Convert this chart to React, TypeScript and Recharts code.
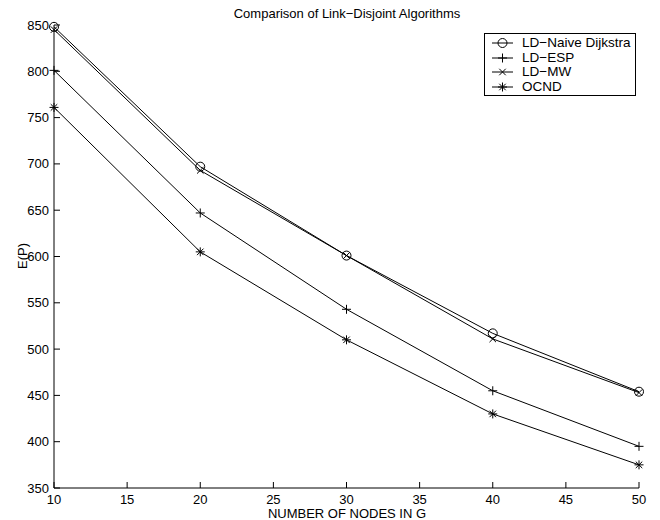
import React from 'react';
import { LineChart, Line, XAxis, YAxis, Legend } from 'recharts';

// number of nodes in G
const nodes = [10, 20, 30, 40, 50];

// E(P) per algorithm
const naiveDijkstra = [848, 697, 601, 517, 454];
const esp = [801, 647, 543, 455, 395];
const mw = [845, 693, 601, 511, 453];
const ocnd = [761, 605, 510, 430, 375];

const xTicks = [10, 15, 20, 25, 30, 35, 40, 45, 50];
const yTicks = [350, 400, 450, 500, 550, 600, 650, 700, 750, 800, 850];

const seriesInfo = [
  { key: 'naive', name: 'LD\u2212Naive Dijkstra', marker: 'circle' },
  { key: 'esp', name: 'LD\u2212ESP', marker: 'plus' },
  { key: 'mw', name: 'LD\u2212MW', marker: 'cross' },
  { key: 'ocnd', name: 'OCND', marker: 'star' },
];

const data = nodes.map((n, i) => ({
  n,
  naive: naiveDijkstra[i],
  esp: esp[i],
  mw: mw[i],
  ocnd: ocnd[i],
}));

const FONT = '"Liberation Sans", Arial, Helvetica, sans-serif';

function Marker({ cx, cy, type }: { cx: number; cy: number; type: string }) {
  const s = 4.5;
  if (type === 'circle') {
    return <circle cx={cx} cy={cy} r={4.5} fill="none" stroke="#000" strokeWidth={1} />;
  }
  const plus = (
    <>
      <line x1={cx - s} x2={cx + s} y1={cy} y2={cy} stroke="#000" />
      <line x1={cx} x2={cx} y1={cy - s} y2={cy + s} stroke="#000" />
    </>
  );
  const d = s * 0.72;
  const cross = (
    <>
      <line x1={cx - d} x2={cx + d} y1={cy - d} y2={cy + d} stroke="#000" />
      <line x1={cx - d} x2={cx + d} y1={cy + d} y2={cy - d} stroke="#000" />
    </>
  );
  return (
    <g>
      {type === 'plus' && plus}
      {type === 'cross' && cross}
      {type === 'star' && (
        <>
          {plus}
          {cross}
        </>
      )}
    </g>
  );
}

const makeDot = (type: string) => (props: any) => {
  const { cx, cy, index } = props;
  if (cx == null || cy == null) return <g key={index} />;
  return (
    <g key={index}>
      <Marker cx={cx} cy={cy} type={type} />
    </g>
  );
};

const BottomTick = ({ x, y, payload }: any) => (
  <g>
    <line x1={x} x2={x} y1={y} y2={y - 6} stroke="#000" />
    <text x={x} y={y + 16} textAnchor="middle" fontSize={13} fontFamily={FONT} fill="#000">
      {payload.value}
    </text>
  </g>
);

const TopTick = ({ x, y }: any) => <line x1={x} x2={x} y1={y} y2={y + 6} stroke="#000" />;

const LeftTick = ({ x, y, payload }: any) => (
  <g>
    <line x1={x} x2={x + 6} y1={y} y2={y} stroke="#000" />
    <text x={x - 5} y={y + 4.5} textAnchor="end" fontSize={13} fontFamily={FONT} fill="#000">
      {payload.value}
    </text>
  </g>
);

const RightTick = ({ x, y }: any) => <line x1={x} x2={x - 6} y1={y} y2={y} stroke="#000" />;

function LegendBox() {
  return (
    <div
      style={{
        border: '1px solid #000',
        background: '#fff',
        padding: '2px 0 3px 4px',
        fontFamily: FONT,
        fontSize: 13.5,
        lineHeight: '14.5px',
        color: '#000',
        boxSizing: 'border-box',
        height: 63,
        whiteSpace: 'nowrap',
      }}
    >
      {seriesInfo.map((s) => (
        <div key={s.key} style={{ display: 'flex', alignItems: 'center', height: 14.5 }}>
          <svg width={30} height={14} style={{ display: 'block', flexShrink: 0 }}>
            <line x1={3} x2={24} y1={7} y2={7} stroke="#000" />
            <Marker cx={13.5} cy={7} type={s.marker} />
          </svg>
          <span style={{ marginLeft: 3 }}>{s.name}</span>
        </div>
      ))}
    </div>
  );
}

export default function App() {
  return (
    <div style={{ position: 'relative', width: 660, height: 520, background: '#fff' }}>
      <style>{'body{margin:0}'}</style>
      <LineChart
        width={660}
        height={520}
        data={data}
        margin={{ top: 25, right: 21, bottom: 0, left: 4 }}
      >
        <XAxis
          dataKey="n"
          type="number"
          domain={[10, 50]}
          ticks={xTicks}
          height={32}
          tickSize={0}
          tickMargin={0}
          tickLine={false}
          tick={BottomTick}
          axisLine={{ stroke: '#000' }}
        />
        <XAxis
          xAxisId="top"
          orientation="top"
          dataKey="n"
          type="number"
          domain={[10, 50]}
          ticks={xTicks}
          height={0}
          tickSize={0}
          tickMargin={0}
          tickLine={false}
          tick={TopTick}
          axisLine={{ stroke: '#000' }}
        />
        <YAxis
          type="number"
          domain={[350, 850]}
          ticks={yTicks}
          width={50}
          tickSize={0}
          tickMargin={0}
          tickLine={false}
          tick={LeftTick}
          axisLine={{ stroke: '#000' }}
        />
        <YAxis
          yAxisId="right"
          orientation="right"
          type="number"
          domain={[350, 850]}
          ticks={yTicks}
          width={0}
          tickSize={0}
          tickMargin={0}
          tickLine={false}
          tick={RightTick}
          axisLine={{ stroke: '#000' }}
        />
        <Legend
          align="center"
          verticalAlign="middle"
          wrapperStyle={{ left: 484, top: 33, width: 152 }}
          content={() => <LegendBox />}
        />
        {seriesInfo.map((s) => (
          <Line
            key={s.key}
            dataKey={s.key}
            name={s.name}
            type="linear"
            stroke="#000"
            strokeWidth={1}
            dot={makeDot(s.marker)}
            activeDot={false}
            isAnimationActive={false}
          />
        ))}
        <text x={347} y={18} textAnchor="middle" fontSize={13} fontFamily={FONT} fill="#000">
          Comparison of Link{'\u2212'}Disjoint Algorithms
        </text>
        <text x={347} y={518} textAnchor="middle" fontSize={13} fontFamily={FONT} fill="#000">
          NUMBER OF NODES IN G
        </text>
        <text
          x={22}
          y={256}
          transform="rotate(-90 22 256)"
          textAnchor="middle"
          dominantBaseline="central"
          fontSize={13}
          fontFamily={FONT}
          fill="#000"
        >
          E(P)
        </text>
      </LineChart>
    </div>
  );
}
